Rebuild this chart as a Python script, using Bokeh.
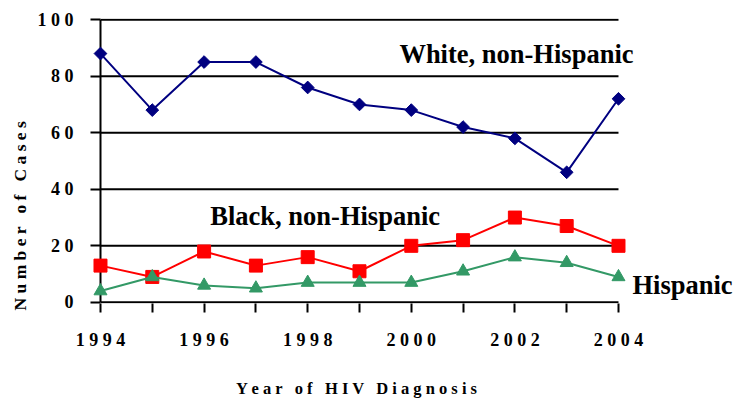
import math
from bokeh.plotting import figure
from bokeh.models import Range1d, FixedTicker, Label
from bokeh.embed import file_html
from bokeh.resources import INLINE

# ---- data ----
years = [1994, 1995, 1996, 1997, 1998, 1999, 2000, 2001, 2002, 2003, 2004]
white = [88, 68, 85, 85, 76, 70, 68, 62, 58, 46, 72]
black = [13, 9, 18, 13, 16, 11, 20, 22, 30, 27, 20]
hispanic = [4, 9, 6, 5, 7, 7, 7, 11, 16, 14, 9]
series_names = ["White, non-Hispanic", "Black, non-Hispanic", "Hispanic"]
y_ticks = [0, 20, 40, 60, 80, 100]
y_tick_labels = {0: "0", 20: "2 0", 40: "4 0", 60: "6 0", 80: "8 0", 100: "1 0 0"}
x_tick_labels = {1994: "1 9 9 4", 1996: "1 9 9 6", 1998: "1 9 9 8",
                 2000: "2 0 0 0", 2002: "2 0 0 2", 2004: "2 0 0 4"}
GAP = " \u00a0 "
x_title = "Y e a r" + GAP + "o f" + GAP + "H I V" + GAP + "D i a g n o s i s"
y_title = "N u m b e r" + GAP + "o f" + GAP + "C a s e s"

FONT = "Liberation Serif"
NAVY = "#000080"
RED = "#FF0000"
GREEN = "#339966"

p = figure(width=735, height=400, output_backend="svg", toolbar_location=None,
           x_range=Range1d(1993.807, 2006.259), y_range=Range1d(-0.4, 100.4),
           min_border_left=90, min_border_right=0, min_border_top=18, min_border_bottom=95)
p.outline_line_color = None
p.xgrid.visible = False
p.ygrid.visible = False
p.background_fill_color = "white"
p.border_fill_color = "white"

# gridlines and y-axis line drawn from data
p.segment(x0=[years[0]] * len(y_ticks), x1=[years[-1]] * len(y_ticks),
          y0=y_ticks, y1=y_ticks, line_color="black", line_width=2)
p.segment(x0=[years[0]], x1=[years[0]], y0=[y_ticks[0]], y1=[y_ticks[-1]],
          line_color="black", line_width=2)

# series
p.line(years, white, line_color=NAVY, line_width=2)
p.scatter(years, white, marker="square", angle=math.pi / 4, size=9,
          fill_color=NAVY, line_color=NAVY)
p.line(years, black, line_color=RED, line_width=2)
p.scatter(years, black, marker="square", size=13, fill_color=RED, line_color=RED)
p.line(years, hispanic, line_color=GREEN, line_width=2)
p.scatter(years, hispanic, marker="triangle", size=13, fill_color=GREEN, line_color=GREEN)

# axes
xa = p.xaxis[0]
xa.ticker = FixedTicker(ticks=years)
xa.major_label_overrides = {y: x_tick_labels.get(y, "") for y in years}
xa.axis_line_color = None
xa.major_tick_out = 9
xa.major_tick_in = 0
xa.major_tick_line_width = 2
xa.major_tick_line_color = "black"
xa.minor_tick_line_color = None
xa.major_label_text_font = FONT
xa.major_label_text_font_style = "bold"
xa.major_label_text_font_size = "18px"
xa.major_label_text_color = "black"
xa.major_label_standoff = 17
# trailing no-break spaces shift the centred title left under the data area
xa.axis_label = x_title + "\u00a0" * 27
xa.axis_label_text_font = FONT
xa.axis_label_text_font_style = "bold"
xa.axis_label_text_font_size = "16.5px"
xa.axis_label_text_color = "black"
xa.axis_label_standoff = 26

ya = p.yaxis[0]
ya.ticker = FixedTicker(ticks=y_ticks)
ya.major_label_overrides = y_tick_labels
ya.axis_line_color = None
ya.major_tick_out = 0
ya.major_tick_in = 10
ya.major_tick_line_width = 2
ya.major_tick_line_color = "black"
ya.minor_tick_line_color = None
ya.major_label_text_font = FONT
ya.major_label_text_font_style = "bold"
ya.major_label_text_font_size = "18px"
ya.major_label_text_color = "black"
ya.major_label_standoff = 17
ya.axis_label = y_title + "\u00a0" * 25
ya.axis_label_text_font = FONT
ya.axis_label_text_font_style = "bold"
ya.axis_label_text_font_size = "17.5px"
ya.axis_label_text_color = "black"
ya.axis_label_standoff = 5

# series annotations
label_pos = [(1999.77, 87.7), (1996.12, 30.6), (2004.27, 6.3)]
for name, (lx, ly) in zip(series_names, label_pos):
    p.add_layout(Label(x=lx, y=ly, text=name, text_align="left", text_baseline="alphabetic",
                       text_font=FONT, text_font_style="bold", text_font_size="26.5px",
                       text_color="black"))

open("out.html", "w").write(file_html(p, INLINE))
